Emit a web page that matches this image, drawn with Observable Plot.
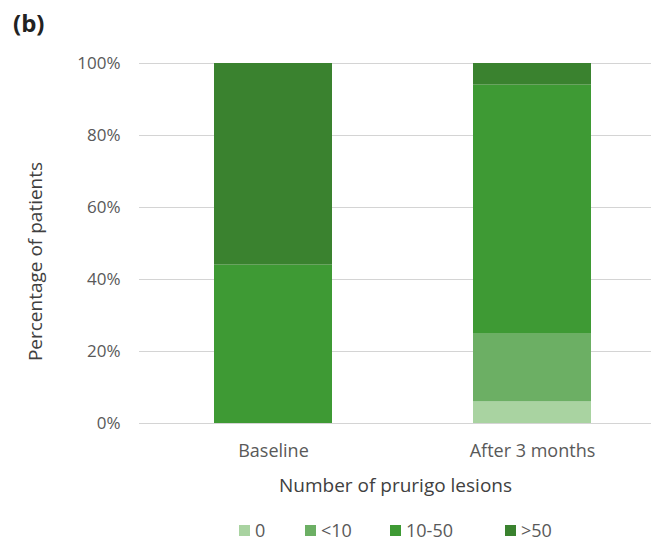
<!DOCTYPE html>
<html>
<head>
<meta charset="utf-8">
<script src="https://cdn.jsdelivr.net/npm/d3@7"></script>
<script src="https://cdn.jsdelivr.net/npm/@observablehq/plot@0.6"></script>
<style>
  html, body { margin: 0; padding: 0; background: #fff; }
  #chart { position: relative; width: 651px; height: 542px; font-family: "Open Sans", Lato, sans-serif; color: #595959; }
  #panel { position: absolute; left: 13px; top: 6px; font-size: 24px; font-weight: bold; color: #222; font-family: "Open Sans", sans-serif; }
  #legend { position: absolute; top: 518px; left: 0; width: 651px; height: 26px; }
  .item { position: absolute; top: 0; display: flex; align-items: center; font-size: 18px; color: #595959; }
  .sw { width: 11px; height: 11px; margin-right: 5px; }
</style>
</head>
<body>
<div id="chart">
  <div id="panel">(b)</div>
</div>
<script>
// Share of patients by number of prurigo lesions, before and after treatment
const timepoints = ["Baseline", "After 3 months"];
const lesionGroups = ["0", "<10", "10-50", ">50"];
const groupColors = ["#a9d3a1", "#6caf64", "#3e9a34", "#3a822f"];
const baselinePct = [0, 0, 44, 56];
const after3mPct = [6, 19, 69, 6];
const yTicks = [0, 20, 40, 60, 80, 100];

const rows = [];
lesionGroups.forEach((g, i) => {
  rows.push({time: timepoints[0], group: g, pct: baselinePct[i]});
  rows.push({time: timepoints[1], group: g, pct: after3mPct[i]});
});

const plot = Plot.plot({
  width: 651,
  height: 505,
  marginTop: 63,
  marginBottom: 82,
  marginLeft: 139,
  marginRight: 0,
  style: {fontFamily: "'Open Sans', Lato, sans-serif", fontSize: "18px", color: "#595959", background: "transparent"},
  x: {domain: timepoints, range: [213, 591], paddingInner: 0.546, paddingOuter: 0, label: null},
  y: {domain: [0, 100], label: null},
  color: {domain: lesionGroups, range: groupColors},
  marks: [
    Plot.ruleY(yTicks, {stroke: "#d4d4d4", strokeWidth: 1}),
    Plot.barY(rows, Plot.stackY({x: "time", y: "pct", fill: "group", order: lesionGroups})),
    Plot.axisY(yTicks, {tickSize: 0, tickPadding: 19, tickFormat: d => d + "%", fontSize: 17}),
    Plot.axisX({tickSize: 0, tickPadding: 21, fontSize: 18}),
    Plot.text(["Number of prurigo lesions"], {frameAnchor: "bottom", dy: 68, fontSize: 19, fill: "#404040"}),
    Plot.text(["Percentage of patients"], {frameAnchor: "left", textAnchor: "middle", dx: -104, dy: 18, rotate: -90, fontSize: 19, fill: "#404040"})
  ]
});
plot.style.position = "absolute";
plot.style.left = "0";
plot.style.top = "0";
const chart = document.getElementById("chart");
chart.appendChild(plot);
chart.appendChild(document.getElementById("panel"));

// legend under the axis title
const legend = document.createElement("div");
legend.id = "legend";
const legendX = [239, 305, 390, 505];
lesionGroups.forEach((g, i) => {
  const item = document.createElement("div");
  item.className = "item";
  item.style.left = legendX[i] + "px";
  const sw = document.createElement("span");
  sw.className = "sw";
  sw.style.background = groupColors[i];
  const label = document.createElement("span");
  label.textContent = g;
  item.appendChild(sw);
  item.appendChild(label);
  legend.appendChild(item);
});
chart.appendChild(legend);
</script>
</body>
</html>
